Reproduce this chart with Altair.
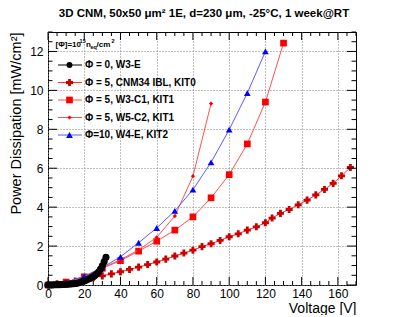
import altair as alt
import pandas as pd

FONT = "Liberation Sans"
NARROW = "Liberation Sans Narrow, Arial Narrow, Liberation Sans"
W, H = 308, 253

# ---------------- data ----------------
v_phi0 = list(range(0, 33))
p_phi0 = [0, .002, .004, .007, .01, .013, .017, .021, .026, .031, .037, .043, .05,
          .058, .067, .078, .09, .12, .15, .18, .21, .25, .29, .33, .38, .43, .5,
          .58, .68, .82, .99, 1.2, 1.42]

v_kit0 = [0, 5, 10, 15, 20, 25, 30, 35, 40, 45, 50, 55, 60, 65, 70, 75, 80, 85, 90,
          95, 100, 105, 110, 115, 120, 123.7, 128.3, 133.1, 138.1, 143, 147.8,
          152.6, 157.4, 162, 166.9]
p_kit0 = [0, .06, .13, .2, .29, .38, .47, .57, .68, .8, .92, 1.05, 1.18, 1.33, 1.49,
          1.64, 1.79, 1.97, 2.12, 2.29, 2.48, 2.63, 2.82, 2.99, 3.2, 3.44, 3.68,
          3.88, 4.12, 4.36, 4.63, 4.91, 5.22, 5.61, 6.04]

v_w3c1 = [0, 10, 20, 30, 40, 50, 60, 70, 80, 90, 100, 110, 120, 130]
p_w3c1 = [0, .15, .42, .86, 1.25, 1.74, 2.25, 2.82, 3.5, 4.48, 5.67, 7.25, 9.4, 12.43]

v_w5c2 = [0, 10, 20, 30, 40, 50, 60, 70, 80, 90]
p_w5c2 = [0, .14, .44, .87, 1.3, 1.8, 2.45, 3.54, 5.59, 9.32]

v_w4e = [0, 10, 20, 30, 40, 50, 60, 70, 80, 90, 100, 110, 120]
p_w4e = [0, .14, .46, .89, 1.45, 2.17, 2.93, 3.81, 4.9, 6.3, 7.98, 9.86, 12.0]

legend_labels = ["\u03a6 = 0, W3-E", "\u03a6 = 5, CNM34 IBL, KIT0",
                 "\u03a6 = 5, W3-C1, KIT1", "\u03a6 = 5, W5-C2, KIT1",
                 "\u03a6=10, W4-E,   KIT2"]

x_major = [0, 20, 40, 60, 80, 100, 120, 140, 160]
x_minor = [v for v in range(0, 171, 5) if v % 20 != 0]
y_major = [0, 2, 4, 6, 8, 10, 12]
y_minor = [i * 0.5 for i in range(0, 27) if (i * 0.5) % 2 != 0]

title_text = "3D CNM, 50x50 \u03bcm\u00b2 1E, d=230 \u03bcm, -25\u00b0C, 1 week@RT"

# ---------------- scales / axes ----------------
xscale = alt.Scale(domain=[0, 170], nice=False, zero=False)
yscale = alt.Scale(domain=[0, 13], nice=False, zero=False)

x_axis = alt.Axis(values=x_major, title="Voltage [V]", grid=True, gridDash=[1, 2],
                  gridColor="#808080", gridWidth=1, ticks=False, tickSize=0,
                  domain=False, labelFont=FONT, labelFontSize=12, labelColor="black",
                  labelPadding=3, titleFont=FONT, titleFontSize=14,
                  titleFontWeight="normal", titleColor="black", titleAlign="right",
                  titleAnchor="end", titleX=W, titleY=27, titleBaseline="alphabetic",
                  labelFlush=False)
y_axis = alt.Axis(values=y_major, title="Power Dissipation [mW/cm\u00b2]", grid=True,
                  gridDash=[1, 2], gridColor="#808080", gridWidth=1, ticks=False,
                  tickSize=0, domain=False, labelFont=FONT, labelFontSize=12,
                  labelColor="black", labelPadding=5, titleFont=FONT,
                  titleFontSize=14.5, titleFontWeight="normal", titleColor="black",
                  titleAngle=270, titleAlign="right", titleAnchor="end", titleX=-28,
                  titleY=0, titleBaseline="alphabetic", labelFlush=False)


def X():
    return alt.X("V:Q", scale=xscale, axis=x_axis)


def Y():
    return alt.Y("P:Q", scale=yscale, axis=y_axis)


series = [
    (v_kit0, p_kit0, "cross", 50, "#cc0000", "#ff3030"),
    (v_w3c1, p_w3c1, "square", 45, "#ff0000", "#ff5050"),
    (v_w5c2, p_w5c2, "diamond", 18, "#ff0000", "#ff5050"),
    (v_w4e, p_w4e, "triangle-up", 45, "#0000ff", "#5a5aff"),
    (v_phi0, p_phi0, "circle", 50, "#000000", "#000000"),
]

layers = []
for v, p, shape, size, fill, line in series:
    df = pd.DataFrame({"V": v, "P": p})
    base = alt.Chart(df)
    layers.append(base.mark_line(color=line, strokeWidth=1).encode(x=X(), y=Y()))
    layers.append(base.mark_point(shape=shape, size=size, filled=True, color=fill,
                                  opacity=1).encode(x=X(), y=Y()))

# inward ticks (ROOT style)
xmaj = pd.DataFrame({"V": x_major})
xmin = pd.DataFrame({"V": x_minor})
ymaj = pd.DataFrame({"P": y_major})
ymin = pd.DataFrame({"P": y_minor})
tick = dict(color="black", strokeWidth=1)
layers += [
    alt.Chart(xmaj).mark_rule(**tick).encode(x=X(), y=alt.value(H), y2=alt.value(H - 8)),
    alt.Chart(xmin).mark_rule(**tick).encode(x=X(), y=alt.value(H), y2=alt.value(H - 4)),
    alt.Chart(xmaj).mark_rule(**tick).encode(x=X(), y=alt.value(0), y2=alt.value(8)),
    alt.Chart(xmin).mark_rule(**tick).encode(x=X(), y=alt.value(0), y2=alt.value(4)),
    alt.Chart(ymaj).mark_rule(**tick).encode(y=Y(), x=alt.value(0), x2=alt.value(9)),
    alt.Chart(ymin).mark_rule(**tick).encode(y=Y(), x=alt.value(0), x2=alt.value(4.5)),
    alt.Chart(ymaj).mark_rule(**tick).encode(y=Y(), x=alt.value(W), x2=alt.value(W - 9)),
    alt.Chart(ymin).mark_rule(**tick).encode(y=Y(), x=alt.value(W), x2=alt.value(W - 4.5)),
]

# legend
dummy = pd.DataFrame({"a": [0]})
row_y = [33, 50.5, 68, 85.5, 103]
leg_style = [
    ("circle", 35, "#000000", "#000000"),
    ("cross", 50, "#cc0000", "#ff3030"),
    ("square", 45, "#ff0000", "#ff5050"),
    ("diamond", 18, "#ff0000", "#ff5050"),
    ("triangle-up", 45, "#0000ff", "#5a5aff"),
]
for ry, lab, (shape, size, fill, line) in zip(row_y, legend_labels, leg_style):
    layers.append(alt.Chart(dummy).mark_rule(color=line, strokeWidth=1).encode(
        x=alt.value(10), x2=alt.value(34), y=alt.value(ry)))
    layers.append(alt.Chart(dummy).mark_point(shape=shape, size=size, filled=True,
                                              color=fill, opacity=1).encode(
        x=alt.value(21.5), y=alt.value(ry)))
    layers.append(alt.Chart(dummy).mark_text(text=lab, align="left", baseline="middle",
                                             font=NARROW, fontSize=10,
                                             fontWeight="bold", color="black").encode(
        x=alt.value(37), y=alt.value(ry)))

# legend header: [Φ]=10^15 n_eq/cm^2
header_parts = [
    ("[\u03a6]=10", 7.5, 14.7, 8),
    ("15", 31.6, 11.0, 5.5),
    ("n", 38.0, 14.7, 8),
    ("eq", 42.4, 17.0, 5.5),
    ("/cm", 48.6, 14.7, 8),
    ("2", 63.4, 11.0, 5.5),
]
for txt, hx, hy, fs in header_parts:
    layers.append(alt.Chart(dummy).mark_text(text=txt, align="left",
                                             baseline="alphabetic", font=NARROW,
                                             fontSize=fs, fontWeight="bold",
                                             color="black").encode(
        x=alt.value(hx), y=alt.value(hy)))

# title
layers.append(alt.Chart(dummy).mark_text(text=title_text, align="center",
                                         baseline="alphabetic", font=FONT,
                                         fontSize=11.5, fontWeight="bold",
                                         color="black").encode(
    x=alt.value(W / 2 + 2), y=alt.value(-15)))

chart = alt.layer(*layers).properties(
    width=W, height=H,
    autosize=alt.AutoSizeParams(type="none"),
    padding={"left": 40, "top": 24, "right": 45, "bottom": 30},
    background="white",
).configure_view(stroke="black", strokeWidth=1)

chart.save("out.html", embed_options={"renderer": "svg", "actions": False})
